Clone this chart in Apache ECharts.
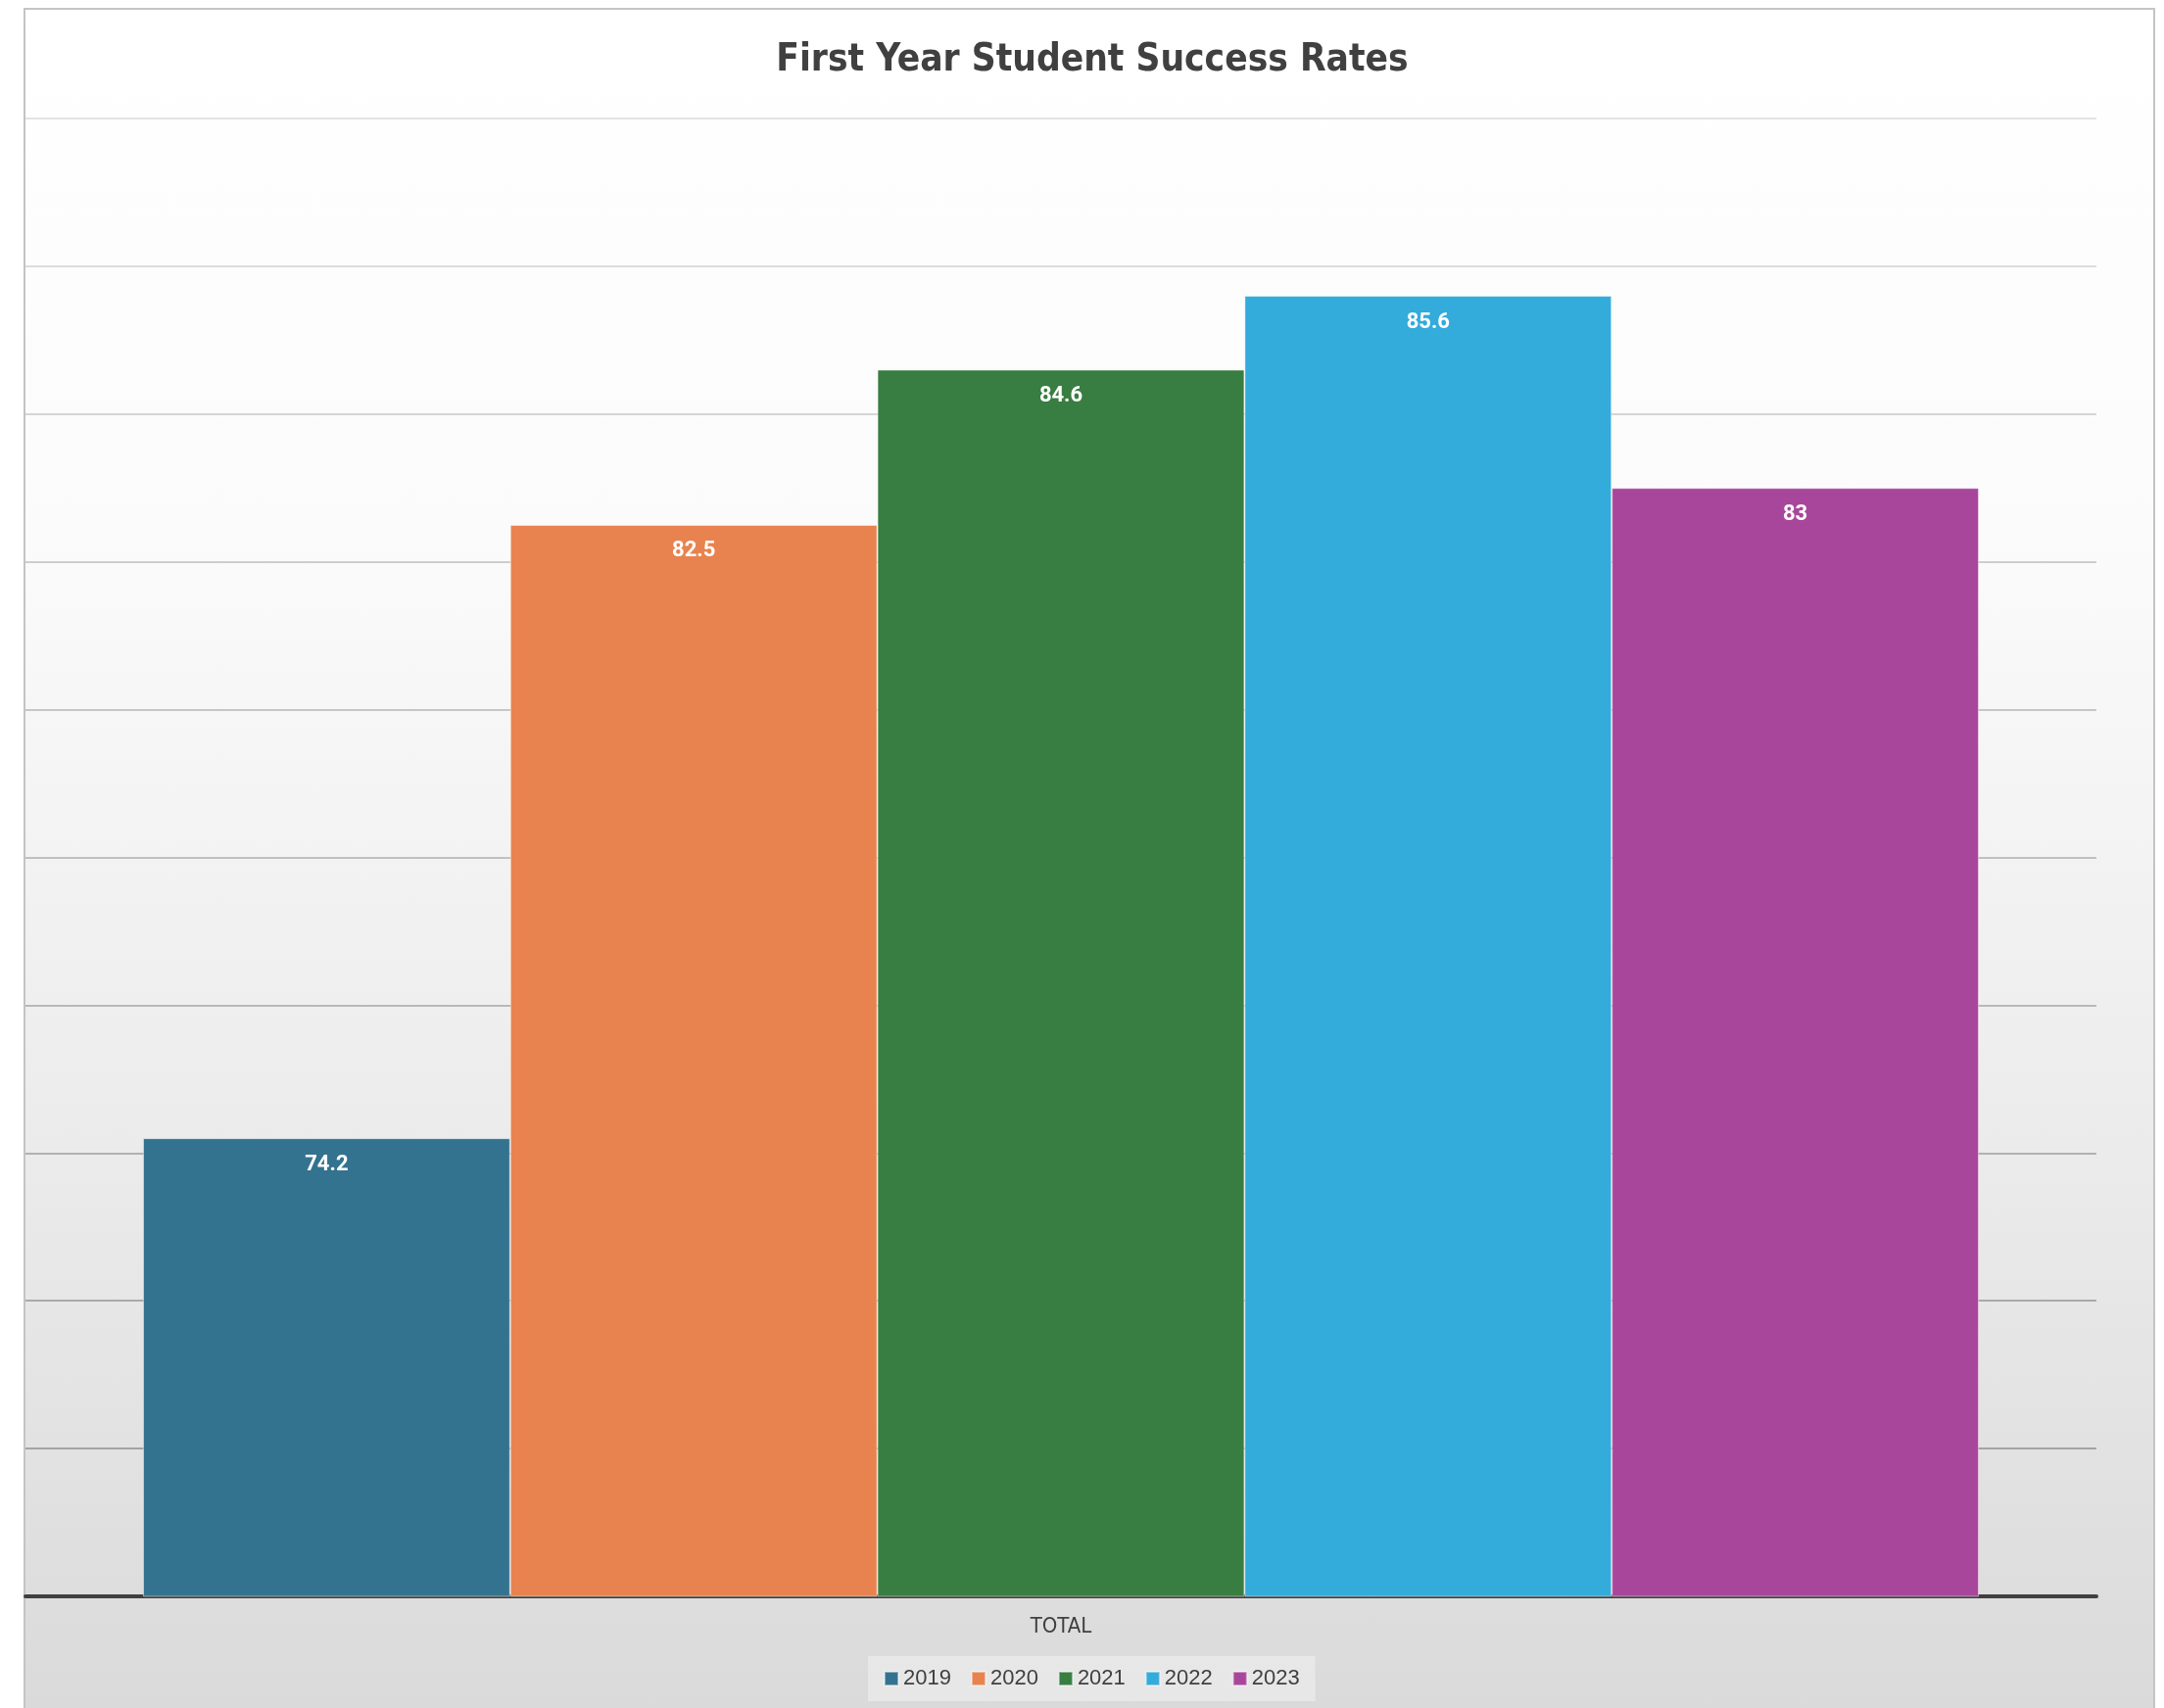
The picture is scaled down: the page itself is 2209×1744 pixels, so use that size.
<!DOCTYPE html>
<html>
<head>
<meta charset="utf-8">
<script src="https://cdn.jsdelivr.net/npm/echarts@6/dist/echarts.min.js"></script>
<style>
html,body{margin:0;padding:0;background:#ffffff;}
#chart{width:2209px;height:1744px;}
</style>
</head>
<body>
<div id="chart"></div>
<script>
const titleText = 'First Year Student Success Rates';
const categories = ['TOTAL'];
const seriesNames = ['2019', '2020', '2021', '2022', '2023'];
const values2019 = [74.2];
const values2020 = [82.5];
const values2021 = [84.6];
const values2022 = [85.6];
const values2023 = [83];
const seriesColors = ['#34738f', '#e8834f', '#387d41', '#33abdb', '#a8469c'];

const allValues = [values2019, values2020, values2021, values2022, values2023];

const chart = echarts.init(document.getElementById('chart'), null, {renderer: 'canvas'});

const series = seriesNames.map((name, i) => ({
  name: name,
  type: 'bar',
  data: allValues[i],
  barGap: '0%',
  barCategoryGap: '11.35%',
  itemStyle: {
    color: seriesColors[i],
    borderColor: 'rgba(255,255,255,0.45)',
    borderWidth: 1
  },
  label: {
    show: true,
    position: 'insideTop',
    distance: 16,
    color: '#ffffff',
    fontFamily: 'Roboto, "Liberation Sans", sans-serif',
    fontWeight: 'bold',
    fontSize: 22
  }
}));

chart.setOption({
  animation: false,
  backgroundColor: '#ffffff',
  graphic: [{
    type: 'rect',
    z: -100,
    silent: true,
    shape: {x: 25, y: 9, width: 2174, height: 1800},
    style: {
      fill: {
        type: 'linear', x: 0, y: 0, x2: 0, y2: 1, global: false,
        colorStops: [
          {offset: 0, color: '#ffffff'},
          {offset: 0.3, color: '#fbfbfb'},
          {offset: 0.65, color: '#ebebeb'},
          {offset: 1, color: '#d8d8d8'}
        ]
      },
      stroke: '#c4c4c4',
      lineWidth: 2
    }
  }],
  title: {
    text: titleText,
    left: 1110,
    textAlign: 'center',
    top: 37,
    textStyle: {
      fontFamily: '"Liberation Sans Narrow", "DejaVu Sans Condensed", sans-serif',
      fontWeight: 'bold',
      fontSize: 38.5,
      color: '#404040'
    }
  },
  legend: {
    data: seriesNames,
    top: 1691,
    left: 886,
    icon: 'rect',
    itemWidth: 14,
    itemHeight: 14,
    itemGap: 20,
    padding: [12, 16],
    backgroundColor: 'rgba(255,255,255,0.35)',
    textStyle: {
      fontFamily: '"Liberation Sans", Arial, sans-serif',
      fontSize: 22,
      color: '#404040'
    }
  },
  grid: {
    left: 26,
    right: 69,
    top: 121,
    bottom: 114,
    containLabel: false
  },
  xAxis: {
    type: 'category',
    data: categories,
    axisTick: {show: false},
    axisLine: {show: true, lineStyle: {color: '#404040', width: 4}},
    axisLabel: {
      margin: 20,
      fontFamily: '"Liberation Sans Narrow", "DejaVu Sans Condensed", sans-serif',
      fontSize: 22,
      color: '#404040'
    }
  },
  yAxis: {
    type: 'value',
    min: 68,
    max: 88,
    interval: 2,
    axisLabel: {show: false},
    axisLine: {show: false},
    axisTick: {show: false},
    splitLine: {
      show: true,
      lineStyle: {
        width: 2,
        color: {
          type: 'linear', x: 0, y: 121, x2: 0, y2: 1630, global: true,
          colorStops: [
            {offset: 0, color: '#e3e3e3'},
            {offset: 1, color: '#9c9c9c'}
          ]
        }
      }
    }
  },
  series: series
});
</script>
</body>
</html>
